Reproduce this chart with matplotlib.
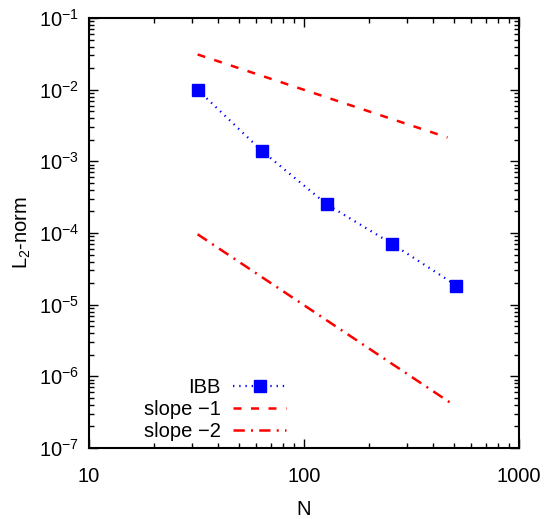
import matplotlib
matplotlib.use('Agg')
import matplotlib.pyplot as plt
from matplotlib.ticker import LogLocator, NullFormatter, LogFormatterSciNotation

plt.rcParams['font.family'] = ['Liberation Sans', 'DejaVu Sans']
plt.rcParams['mathtext.fontset'] = 'custom'
plt.rcParams['mathtext.rm'] = 'Liberation Sans'
plt.rcParams['mathtext.it'] = 'Liberation Sans'

# IBB convergence data
n_ibb = [32, 64, 128, 256, 512]
err_ibb = [1.0e-2, 1.38e-3, 2.5e-4, 7.1e-5, 1.85e-5]

# reference slope lines (end points)
n_slope1 = [32, 465]
y_slope1 = [3.1e-2, 2.15e-3]
n_slope2 = [32, 490]
y_slope2 = [9.6e-5, 4.1e-7]

fig = plt.figure(figsize=(5.5, 5.19), dpi=100)
ax = fig.add_axes([89/550, 1 - 448/519, 430/550, 430/519])

ax.plot(n_ibb, err_ibb, color='#0000ff', linestyle=(0, (0.6, 2.2)), lw=1.6,
        marker='s', markersize=8, label='IBB')
ax.plot(n_slope1, y_slope1, color='#ff0000', linestyle=(0, (3.2, 3.8)), lw=1.8,
        label='slope \u22121')
ax.plot(n_slope2, y_slope2, color='#ff0000', linestyle=(0, (4.5, 2.5, 0.8, 2.5)), lw=1.8,
        label='slope \u22122')

ax.set_xscale('log')
ax.set_yscale('log')
ax.set_xlim(10, 1000)
ax.set_ylim(1e-7, 1e-1)

ax.xaxis.set_major_locator(LogLocator(base=10, numticks=10))
ax.xaxis.set_minor_locator(LogLocator(base=10, subs=range(2, 10), numticks=20))
ax.yaxis.set_major_locator(LogLocator(base=10, numticks=10))
ax.yaxis.set_minor_locator(LogLocator(base=10, subs=range(2, 10), numticks=20))
ax.xaxis.set_minor_formatter(NullFormatter())
ax.yaxis.set_minor_formatter(NullFormatter())
ax.xaxis.set_major_formatter(plt.FuncFormatter(lambda v, p: '%d' % round(v)))
ax.yaxis.set_major_formatter(LogFormatterSciNotation())

ax.tick_params(which='both', direction='in', top=True, right=True, labelsize=14.5)
ax.tick_params(axis='x', which='major', pad=14)
ax.tick_params(axis='y', which='major', pad=7)
ax.tick_params(which='major', length=6.5, width=1.0)
ax.tick_params(which='minor', length=3.5, width=1.0)
for s in ax.spines.values():
    s.set_linewidth(1.5)

ax.set_xlabel('N', fontsize=14.5, labelpad=10)
ax.set_ylabel('L$_2$-norm', fontsize=14.5, labelpad=4)

ax.legend(loc='lower right', bbox_to_anchor=(0.459, 0.017), frameon=False, fontsize=14.5,
          markerfirst=False, handlelength=2.65, handletextpad=0.6, labelspacing=0.15,
          borderaxespad=0.0, borderpad=0.0)

plt.savefig('out.png', dpi=100)
